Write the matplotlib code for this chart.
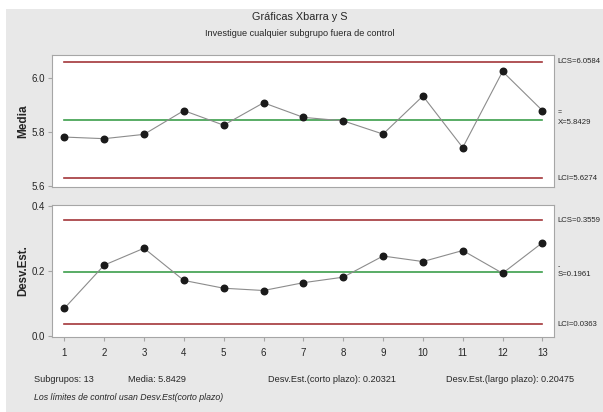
import matplotlib.pyplot as plt
from matplotlib import font_manager
from matplotlib.patches import Rectangle
from matplotlib.transforms import blended_transform_factory

subgroups = list(range(1, 14))
means = [5.780, 5.774, 5.790, 5.878, 5.824, 5.907, 5.853, 5.840, 5.791, 5.932, 5.741, 6.023, 5.878]
stdevs = [0.085, 0.218, 0.270, 0.171, 0.147, 0.140, 0.164, 0.181, 0.246, 0.229, 0.263, 0.193, 0.287]

xbar_lcs, xbar_center, xbar_lci = 6.0584, 5.8429, 5.6274
s_lcs, s_center, s_lci = 0.3559, 0.1961, 0.0363

installed = {f.name for f in font_manager.fontManager.ttflist}
FONT = [f for f in ["Liberation Sans Narrow", "Liberation Sans", "DejaVu Sans"] if f in installed]
plt.rcParams["font.family"] = FONT

RED = "#a3363a"
GREEN = "#3c9e4c"
GRAY_LINE = "#8c8c8c"
SPINE = "#a6a6a6"
TEXT = "#262626"

fig = plt.figure(figsize=(6.03, 4.12), dpi=100)
fig.patch.set_facecolor("white")
# grey panel behind everything (leaves a thin white margin top/left)
fig.patches.append(Rectangle((6 / 603, 0), 1, 1 - 9 / 412, transform=fig.transFigure,
                             facecolor="#e8e8e8", edgecolor="none", zorder=-10))

ax1 = fig.add_axes([0.0862, 0.5468, 0.8325, 0.3197])
ax2 = fig.add_axes([0.0862, 0.1828, 0.8325, 0.3197])


def style_axes(ax):
    ax.set_facecolor("white")
    for sp in ax.spines.values():
        sp.set_color(SPINE)
        sp.set_linewidth(0.8)
    ax.tick_params(colors=SPINE, labelcolor=TEXT, labelsize=7, length=3, width=0.8, pad=2)
    ax.set_xlim(0.69, 13.29)


def draw_chart(ax, values, lcs, center, lci):
    ax.plot([1, 13], [lcs, lcs], color=RED, lw=1.2)
    ax.plot([1, 13], [lci, lci], color=RED, lw=1.2)
    ax.plot([1, 13], [center, center], color=GREEN, lw=1.2)
    ax.plot(subgroups, values, color=GRAY_LINE, lw=0.8, marker="o",
            markersize=4.7, markerfacecolor="#1a1a1a", markeredgecolor="#1a1a1a", zorder=3)


# --- Xbar chart ---
style_axes(ax1)
draw_chart(ax1, means, xbar_lcs, xbar_center, xbar_lci)
ax1.set_ylim(5.596, 6.084)
ax1.set_yticks([5.6, 5.8, 6.0])
ax1.set_yticklabels(["5.6", "5.8", "6.0"])
ax1.set_xticks([])
ax1.set_ylabel("Media", fontsize=8.5, fontweight="bold", color=TEXT, labelpad=1.5)

tr1 = blended_transform_factory(ax1.transAxes, ax1.transData)
ax1.text(1.007, xbar_lcs, "LCS=6.0584", transform=tr1, fontsize=5.6, va="center", color=TEXT)
ax1.text(1.007, xbar_lci, "LCI=5.6274", transform=tr1, fontsize=5.6, va="center", color=TEXT)
ax1.text(1.007, xbar_center - 0.008, "X=5.8429", transform=tr1, fontsize=5.6, va="center", color=TEXT)
ax1.text(1.008, xbar_center + 0.028, "=", transform=tr1, fontsize=5, va="center", color=TEXT)

# --- S chart ---
style_axes(ax2)
draw_chart(ax2, stdevs, s_lcs, s_center, s_lci)
ax2.set_ylim(-0.002, 0.403)
ax2.set_yticks([0.0, 0.2, 0.4])
ax2.set_yticklabels(["0.0", "0.2", "0.4"])
ax2.set_xticks(subgroups)
ax2.set_xticklabels([str(s) for s in subgroups])
ax2.tick_params(axis="x", pad=5)
ax2.set_ylabel("Desv.Est.", fontsize=8.3, fontweight="bold", color=TEXT, labelpad=1.5)

tr2 = blended_transform_factory(ax2.transAxes, ax2.transData)
ax2.text(1.007, s_lcs, "LCS=0.3559", transform=tr2, fontsize=5.6, va="center", color=TEXT)
ax2.text(1.007, s_lci, "LCI=0.0363", transform=tr2, fontsize=5.6, va="center", color=TEXT)
ax2.text(1.007, s_center - 0.007, "S=0.1961", transform=tr2, fontsize=5.6, va="center", color=TEXT)
ax2.text(1.008, s_center + 0.018, "-", transform=tr2, fontsize=5, va="center", color=TEXT)

# titles
fig.text(0.4975, 1 - 16.5 / 412, "Gráficas Xbarra y S", ha="center", va="center",
         fontsize=7.8, color=TEXT)
fig.text(0.4975, 1 - 33 / 412, "Investigue cualquier subgrupo fuera de control",
         ha="center", va="center", fontsize=6.6, color=TEXT)

# footer
y_foot = 1 - 380 / 412
fig.text(34 / 603, y_foot, "Subgrupos: 13", fontsize=6.6, va="center", color=TEXT)
fig.text(128 / 603, y_foot, "Media: 5.8429", fontsize=6.6, va="center", color=TEXT)
fig.text(268 / 603, y_foot, "Desv.Est.(corto plazo): 0.20321", fontsize=6.6, va="center", color=TEXT)
fig.text(446 / 603, y_foot, "Desv.Est.(largo plazo): 0.20475", fontsize=6.6, va="center", color=TEXT)
fig.text(34 / 603, 1 - 397 / 412, "Los límites de control usan Desv.Est(corto plazo)",
         fontsize=6.3, style="italic", va="center", color=TEXT)

fig.savefig("out.png", dpi=100, facecolor=fig.get_facecolor())
